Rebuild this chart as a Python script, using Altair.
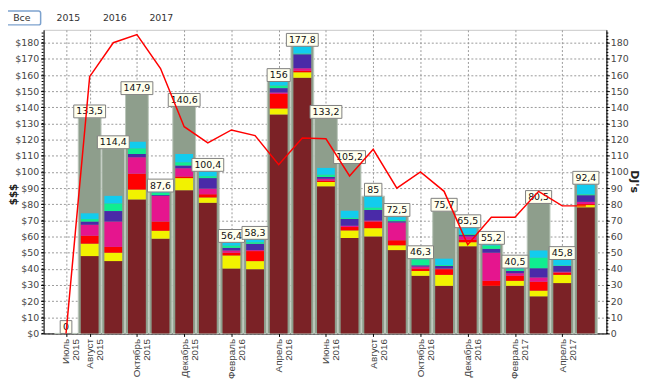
import altair as alt
import pandas as pd

months = ["Июль", "Август", "Сентябрь", "Октябрь", "Ноябрь", "Декабрь",
          "Январь", "Февраль", "Март", "Апрель", "Май", "Июнь",
          "Июль", "Август", "Сентябрь", "Октябрь", "Ноябрь", "Декабрь",
          "Январь", "Февраль", "Март", "Апрель", "Май"]
years = [2015] * 6 + [2016] * 12 + [2017] * 5
totals = [0, 133.5, 114.4, 147.9, 87.6, 140.6, 100.4, 56.4, 58.3, 156, 177.8, 133.2,
          105.2, 85, 72.5, 46.3, 75.7, 65.5, 55.2, 40.5, 80.5, 45.8, 92.4]
djs = [0, 159, 180, 185, 164, 128, 118, 126, 122.5, 104.5, 121, 120.5,
       97.5, 114, 90, 100, 88, 55, 72, 72, 88, 79, 79]

maroon = [0, 47.9, 44.8, 83, 58.7, 88.7, 80.9, 40.2, 39.8, 135.6, 158.4, 91.1,
          59.1, 60.1, 51.6, 35.7, 29.5, 54, 29.5, 29.5, 23, 31.2, 78.1]
yellow = [0, 7.7, 5.2, 6.1, 4.9, 7.5, 3.3, 8.1, 5, 3.7, 3.3, 2.7,
          4.7, 5.1, 3, 3, 6.8, 2.5, 0, 3.1, 3.5, 5.1, 1.4]
red = [0, 4.9, 3.6, 9.8, 5.7, 1, 2, 1.7, 6.2, 9, 1, 0.8,
       2.1, 4.1, 3.1, 1.5, 3.5, 1.6, 3.1, 3.1, 5.5, 1.4, 0.6]
magenta = [0, 6.8, 15.7, 10.2, 15.9, 5.1, 3.5, 1.4, 0.6, 0.9, 1.5, 1.2,
           0.8, 0.6, 11, 1.2, 0.4, 2, 17.4, 1.6, 2.7, 0.5, 1.4]
indigo = [0, 2, 6.5, 2, 0.5, 1.7, 6.5, 1.6, 3.9, 2.7, 8.7, 1.1,
          4.2, 6.6, 0.8, 0.8, 1.6, 1, 2.4, 1.4, 5.7, 3.6, 4.1]
green = [0, 1.5, 4.7, 3.5, 1.5, 2, 1.2, 1.4, 1, 1.6, 0.5, 1.4,
         0.7, 1.4, 0.8, 3.7, 0.6, 0.5, 2, 1.1, 6.5, 0.4, 0.6]
cyan = [0, 3.6, 4.7, 4.1, 0.5, 5.1, 3.1, 1.6, 2, 2.5, 4.6, 4.2,
        4.4, 7.3, 1.7, 1, 3.9, 4, 1.3, 1, 4.5, 3.7, 6.2]

series_names = ["Серия 1", "Серия 2", "Серия 3", "Серия 4", "Серия 5", "Серия 6", "Серия 7"]
series_colors = ["#7B2226", "#F2F200", "#FF0000", "#E5158E", "#4A2AA8", "#10EE90", "#12CCEE"]
buttons = ["Все", "2015", "2016", "2017"]
y_ticks = list(range(0, 181, 10))
minor_ticks = list(range(0, 188, 2))
x_label_idx = [0, 1, 3, 5, 7, 9, 11, 13, 15, 17, 19, 21]

FONT = "DejaVu Sans"
XFONT = "Liberation Sans"
idx = list(range(len(months)))
wide = pd.DataFrame({"i": idx, "total": totals, "dj": djs})
wide["label"] = [f"{v:g}".replace(".", ",") for v in totals]
segs = [maroon, yellow, red, magenta, indigo, green, cyan]
long = pd.DataFrame([{"i": i, "series": series_names[k], "k": k, "value": segs[k][i]}
                     for i in idx for k in range(len(segs))])

label_arr = "[" + ",".join(f"['{m}','{y}']" for m, y in zip(months, years)) + "]"

xaxis = alt.Axis(values=x_label_idx, labelExpr=label_arr + "[datum.value]",
                 labelAngle=270, labelAlign="right", labelBaseline="middle",
                 labelOverlap=False, labelFlush=False, labelLineHeight=10,
                 labelFont=XFONT, labelFontSize=10,
                 grid=True, gridDash=[2, 2], gridColor="#9A9A9A", title=None,
                 tickSize=3, labelPadding=2)
xscale = alt.Scale(domain=[-0.74, 22.66], nice=False, zero=False)
x_enc = alt.X("i:Q", scale=xscale, axis=xaxis)

yscale = alt.Scale(domain=[0, 188], nice=False, zero=True)
yaxis_left = alt.Axis(values=y_ticks, labelExpr="'$' + datum.value", title="$$$",
                      grid=True, gridDash=[2, 2], gridColor="#9A9A9A", tickSize=3,
                      labelPadding=2, titleX=-30, titleY=166, titleAngle=270,
                      titleBaseline="middle", titleAlign="center",
                      titleFontWeight="bold", titleFontSize=10.5)
yaxis_right = alt.Axis(orient="right", values=y_ticks, title="DJ's", grid=False,
                       tickSize=3, labelPadding=1, titleX=27, titleY=153, titleAngle=90,
                       titleBaseline="middle", titleAlign="center",
                       titleFontWeight="bold", titleFontSize=11)

gray = alt.Chart(wide).mark_bar(size=23, fill="#8E9E8C", stroke="#BAC6BA", strokeWidth=1).encode(
    x=x_enc, y=alt.Y("total:Q", scale=yscale, axis=yaxis_left))

stacks = alt.Chart(long).mark_bar(size=18).encode(
    x=x_enc,
    y=alt.Y("value:Q", stack="zero", scale=yscale, axis=yaxis_left),
    color=alt.Color("series:N", scale=alt.Scale(domain=series_names, range=series_colors), legend=None),
    order=alt.Order("k:Q"))

boxes = alt.Chart(wide).transform_calculate(
    bw="length(replace(datum.label, ',', '')) * 5.8 + (indexof(datum.label, ',') >= 0 ? 3 : 0) + 6"
).mark_bar(fill="#FFFFEE", stroke="#7F7F7F", strokeWidth=1, y2Offset=-13).encode(
    x=x_enc, y=alt.Y("total:Q", scale=yscale, axis=yaxis_left), y2=alt.Y2("total:Q"),
    size=alt.Size("bw:Q", scale=None, legend=None))

texts = alt.Chart(wide).mark_text(dy=-6.5, baseline="middle", align="center", fontSize=9.5,
                                  font=FONT, color="#111").encode(
    x=x_enc, y=alt.Y("total:Q", scale=yscale, axis=yaxis_left), text="label:N")

tick_df = pd.DataFrame({"v": minor_ticks})
ticks_l = alt.Chart(tick_df).mark_rule(color="black", strokeWidth=1).encode(
    y=alt.Y("v:Q", scale=yscale, axis=yaxis_left), x=alt.value(-2), x2=alt.value(0))
ticks_r = alt.Chart(tick_df).mark_rule(color="black", strokeWidth=1).encode(
    y=alt.Y("v:Q", scale=yscale, axis=yaxis_left), x=alt.value(569), x2=alt.value(571))

btn_box = alt.Chart(alt.Data(values=[{"a": 1}])).mark_rect(
    fill="white", stroke="#7DA2CE", strokeWidth=1.5, cornerRadius=2).encode(
    x=alt.value(-41), x2=alt.value(-3), y=alt.value(-19), y2=alt.value(-5))
btn_x = [-22, 25, 72, 119]
btn_layers = [alt.Chart(alt.Data(values=[{"t": b}])).mark_text(
    font=FONT, fontSize=9.5, color="#333", baseline="middle", align="center").encode(
    text="t:N", x=alt.value(bx), y=alt.value(-12)) for b, bx in zip(buttons, btn_x)]

left = alt.layer(gray, stacks, boxes, texts, ticks_l, ticks_r, btn_box, *btn_layers)

line = alt.Chart(wide).mark_line(color="#FF0000", strokeWidth=1.5).encode(
    x=x_enc, y=alt.Y("dj:Q", scale=alt.Scale(domain=[0, 188], nice=False, zero=True), axis=yaxis_right))

chart = alt.layer(left, line).resolve_scale(y="independent").properties(
    width=569, height=307, autosize="none",
    padding={"left": 36, "top": 20, "right": 36, "bottom": 46}
).configure_view(stroke="#C8C8C8").configure_axis(
    labelFont=FONT, labelFontSize=9.5, labelColor="#444", titleFont=FONT, titleColor="#222",
    domainColor="black", tickColor="black")

chart.save("out.html", embed_options={"renderer": "svg", "actions": False})
